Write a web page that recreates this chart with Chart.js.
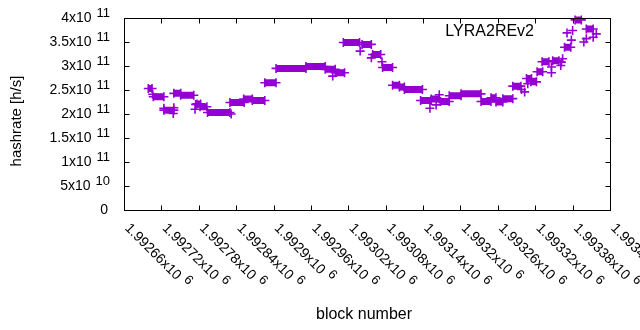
<!DOCTYPE html>
<html>
<head>
<meta charset="utf-8">
<script src="https://cdn.jsdelivr.net/npm/chart.js@4"></script>
<style>
  html, body { margin: 0; padding: 0; background: #fff; }
</style>
</head>
<body>
<canvas id="hashChart" width="640" height="330"></canvas>
<script>
// runs of (nearly) constant hashrate: first block, last block, rate
var runStart = [1992699, 1992707, 1992724, 1992740, 1992751, 1992777, 1992782, 1992794, 1992830, 1992852,
                1992866, 1992886, 1992904, 1992952, 1992983, 1992999, 1993012, 1993042, 1993059, 1993075,
                1993091, 1993102, 1993110, 1993136, 1993153, 1993168, 1993182, 1993201, 1993233, 1993249,
                1993257, 1993268, 1993284, 1993306, 1993313, 1993323, 1993331, 1993348, 1993367, 1993384,
                1993402];
var runEnd   = [1992705, 1992724, 1992740, 1992751, 1992772, 1992783, 1992793, 1992830, 1992853, 1992866,
                1992886, 1992904, 1992952, 1992983, 1992999, 1993014, 1993038, 1993057, 1993072, 1993091,
                1993102, 1993110, 1993139, 1993153, 1993166, 1993182, 1993201, 1993233, 1993249, 1993257,
                1993268, 1993284, 1993297, 1993314, 1993322, 1993332, 1993342, 1993358, 1993377, 1993394,
                1993413];
var runRate  = [2.53e11, 2.36e11, 2.08e11, 2.43e11, 2.39e11, 2.21e11, 2.15e11, 2.03e11, 2.24e11, 2.31e11,
                2.28e11, 2.65e11, 2.95e11, 2.99e11, 2.93e11, 2.86e11, 3.49e11, 3.45e11, 3.24e11, 2.97e11,
                2.60e11, 2.56e11, 2.51e11, 2.28e11, 2.31e11, 2.26e11, 2.38e11, 2.42e11, 2.26e11, 2.34e11,
                2.25e11, 2.32e11, 2.58e11, 2.74e11, 2.67e11, 2.88e11, 3.09e11, 3.11e11, 3.39e11, 3.96e11,
                3.77e11];

// single scattered samples
var ptBlock = [1992706, 1992724, 1992740, 1992739, 1992774, 1992775, 1992832, 1992995, 1993039, 1993057,
               1993074, 1993151, 1993161, 1993166, 1993298, 1993303, 1993308, 1993346, 1993346, 1993361,
               1993362, 1993364, 1993378, 1993371, 1993380, 1993398, 1993402, 1993413, 1993418];
var ptRate  = [2.41e11, 2.12e11, 2.13e11, 2.01e11, 2.10e11, 2.20e11, 2.00e11, 2.79e11, 3.31e11, 3.17e11,
               3.09e11, 2.12e11, 2.19e11, 2.40e11, 2.51e11, 2.46e11, 2.63e11, 2.86e11, 2.98e11, 3.01e11,
               3.08e11, 3.15e11, 3.54e11, 3.69e11, 3.74e11, 3.50e11, 3.57e11, 3.60e11, 3.67e11];

// axis ticks
var xTicks = [1992660, 1992720, 1992780, 1992840, 1992900, 1992960, 1993020, 1993080, 1993140, 1993200,
              1993260, 1993320, 1993380, 1993440];
var xTickText = ["1.99266", "1.99272", "1.99278", "1.99284", "1.9929", "1.99296", "1.99302", "1.99308",
                 "1.99314", "1.9932", "1.99326", "1.99332", "1.99338", "1.99344"];
var yTicks = [0, 5e10, 1e11, 1.5e11, 2e11, 2.5e11, 3e11, 3.5e11, 4e11];
var yTickMant = ["0", "5", "1", "1.5", "2", "2.5", "3", "3.5", "4"];
var yTickExp  = ["", "10", "11", "11", "11", "11", "11", "11", "11"];

var seriesName = "LYRA2REv2";
var purple = "#9400d3";

// runs -> line pieces separated by gaps
var runData = [];
for (var i = 0; i < runStart.length; i++) {
  runData.push({ x: runStart[i], y: runRate[i] });
  runData.push({ x: runEnd[i], y: runRate[i] });
  runData.push({ x: runEnd[i], y: null });
}
var ptData = ptBlock.map(function(b, i) { return { x: b, y: ptRate[i] }; });

var FONT = '"Liberation Sans", Arial, sans-serif';

// gnuplot-like frame, ticks and labels
var framePlugin = {
  id: "frame",
  afterDraw: function(chart) {
    var ctx = chart.ctx, a = chart.chartArea;
    var xs = chart.scales.x, ys = chart.scales.y;
    var L = Math.round(a.left) + 0.5, R = Math.round(a.right) + 0.5;
    var T = Math.round(a.top) + 0.5, B = Math.round(a.bottom) + 0.5;
    ctx.save();
    ctx.strokeStyle = "#000";
    ctx.lineWidth = 1;
    ctx.strokeRect(L, T, R - L, B - T);

    ctx.beginPath();
    xTicks.forEach(function(v) {
      var px = Math.round(xs.getPixelForValue(v)) + 0.5;
      ctx.moveTo(px, B); ctx.lineTo(px, B - 5);
      ctx.moveTo(px, T); ctx.lineTo(px, T + 5);
    });
    yTicks.forEach(function(v) {
      var py = Math.round(ys.getPixelForValue(v)) + 0.5;
      ctx.moveTo(L, py); ctx.lineTo(L + 5, py);
      ctx.moveTo(R, py); ctx.lineTo(R - 5, py);
    });
    ctx.stroke();

    ctx.fillStyle = "#000";
    ctx.textBaseline = "middle";

    // y labels
    yTicks.forEach(function(v, i) {
      var py = ys.getPixelForValue(v);
      ctx.textAlign = "right";
      if (yTickExp[i] === "") {
        ctx.font = "14px " + FONT;
        ctx.fillText(yTickMant[i], 108, py);
      } else {
        ctx.font = "13px " + FONT;
        var ew = ctx.measureText(yTickExp[i]).width;
        ctx.fillText(yTickExp[i], 110, py - 5);
        ctx.font = "14px " + FONT;
        ctx.fillText(yTickMant[i] + "x10", 110 - ew - 5, py);
      }
    });

    // x labels, rotated
    xTicks.forEach(function(v, i) {
      var px = xs.getPixelForValue(v);
      ctx.save();
      ctx.translate(px + 3, 226);
      ctx.rotate(Math.PI / 4);
      ctx.textAlign = "left";
      ctx.font = "14px " + FONT;
      var main = xTickText[i] + "x10";
      var w = ctx.measureText(main).width;
      ctx.fillText(main, 0, 0);
      ctx.font = "13px " + FONT;
      ctx.fillText("6", w + 5, -5);
      ctx.restore();
    });

    // axis titles
    ctx.font = "16px " + FONT;
    ctx.textAlign = "center";
    ctx.fillText("block number", 364, 315);
    ctx.save();
    ctx.translate(17, 121);
    ctx.rotate(-Math.PI / 2);
    ctx.font = "15px " + FONT;
    ctx.fillText("hashrate [h/s]", 0, 0);
    ctx.restore();

    // key
    ctx.font = "16px " + FONT;
    ctx.textAlign = "right";
    ctx.fillText(seriesName, 534, 32);
    ctx.restore();
  }
};

new Chart(document.getElementById("hashChart"), {
  type: "line",
  data: {
    datasets: [{
      label: seriesName,
      data: runData,
      borderColor: purple,
      backgroundColor: purple,
      borderWidth: 7,
      borderCapStyle: "butt",
      spanGaps: false,
      tension: 0,
      pointStyle: "cross",
      pointRadius: 4.5,
      pointBorderWidth: 1.6,
      pointBorderColor: purple,
      clip: false
    }, {
      label: seriesName + " samples",
      data: ptData,
      showLine: false,
      borderColor: purple,
      pointStyle: "cross",
      pointRadius: 4.5,
      pointBorderWidth: 1.6,
      pointBorderColor: purple,
      clip: false
    }]
  },
  options: {
    responsive: false,
    animation: false,
    devicePixelRatio: 1,
    layout: { padding: { left: 124, right: 30, top: 18, bottom: 120 } },
    plugins: { legend: { display: false }, tooltip: { enabled: false } },
    scales: {
      x: { type: "linear", min: 1992660, max: 1993440, display: false },
      y: { type: "linear", min: 0, max: 4e11, display: false }
    }
  },
  plugins: [framePlugin]
});
</script>
</body>
</html>
